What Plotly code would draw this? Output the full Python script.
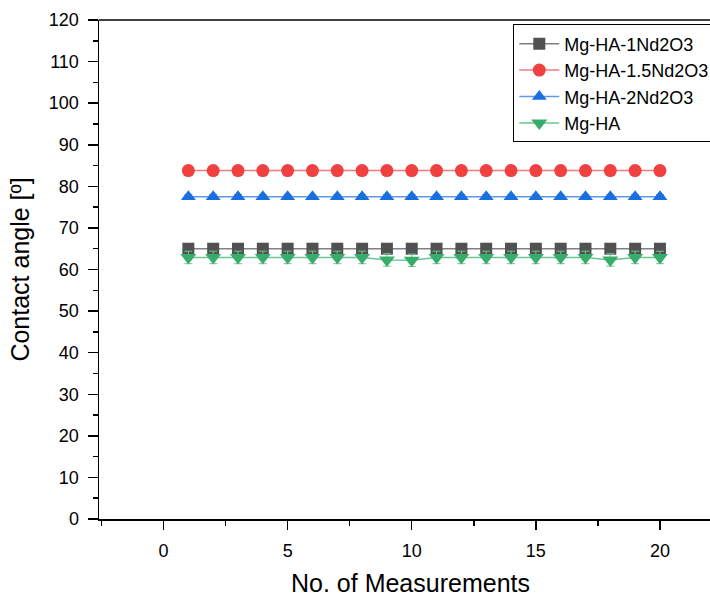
import plotly.graph_objects as go

measurements = list(range(1, 21))

names = ["Mg-HA-1Nd2O3", "Mg-HA-1.5Nd2O3", "Mg-HA-2Nd2O3", "Mg-HA"]

mg_ha_1nd = [65.0] * 20
mg_ha_15nd = [83.8] * 20
mg_ha_2nd = [77.5] * 20
mg_ha = [62.9, 62.9, 62.9, 62.9, 62.9, 62.9, 62.9, 62.9, 62.3, 62.2,
         62.9, 62.9, 62.9, 62.9, 62.9, 62.9, 62.9, 62.3, 62.9, 62.9]

err_1nd = [0.6] * 20
err_15nd = [0.8] * 20
err_2nd = [0.5] * 20
err_ha = [1.5] * 20

x_ticks = [0, 5, 10, 15, 20]
y_ticks = list(range(0, 121, 10))

colors = ["#515151", "#F14040", "#1A6FDF", "#37AD6B"]
line_colors = ["#808080", "#F47A7A", "#5E98E8", "#6CC592"]
symbols = ["square", "circle", "triangle-up", "triangle-down"]
sizes = [12, 13, 13, 14]
series = [mg_ha_1nd, mg_ha_15nd, mg_ha_2nd, mg_ha]
errors = [err_1nd, err_15nd, err_2nd, err_ha]

fig = go.Figure()
for name, ys, errs, c, lc, s, sz in zip(names, series, errors, colors, line_colors, symbols, sizes):
    fig.add_trace(go.Scatter(
        x=measurements, y=ys, name=name, mode="lines+markers",
        line=dict(color=lc, width=1.5),
        marker=dict(color=c, symbol=s, size=sz, line=dict(width=0)),
        error_y=dict(type="data", array=errs, visible=True, color=lc, thickness=1, width=4),
    ))

font_family = "Liberation Sans, Arial, sans-serif"

# The chart is cropped on the right in the reference: the figure is a bit wider
# than the 710px window, and the page hides the overflow.
fig.update_layout(
    width=722, height=598,
    margin=dict(l=99, r=0, t=20, b=79, autoexpand=False),
    paper_bgcolor="white", plot_bgcolor="white",
    font=dict(family=font_family, color="black"),
    showlegend=True,
    hovermode=False,
    legend=dict(
        x=0.665, y=0.991, xanchor="left", yanchor="top",
        bordercolor="black", borderwidth=1, bgcolor="white",
        font=dict(size=18, family=font_family), itemwidth=40,
        tracegroupgap=0,
    ),
    shapes=[dict(type="line", xref="paper", yref="paper", x0=0, x1=1, y0=1, y1=1,
                 line=dict(color="black", width=1.5))],
)

fig.update_xaxes(
    range=[-2.6, 22.5], tickvals=x_ticks, ticktext=[str(v) for v in x_ticks],
    showgrid=False, zeroline=False, automargin=False, showspikes=False,
    showline=True, linecolor="black", linewidth=1.5, mirror=False,
    ticks="outside", ticklen=9, tickwidth=1.5, tickcolor="black",
    minor=dict(dtick=2.5, ticks="outside", ticklen=5, tickwidth=1.5, tickcolor="black", showgrid=False),
    tickfont=dict(size=18), ticklabelstandoff=6,
    title=dict(text="No. of Measurements", font=dict(size=25), standoff=14),
)
fig.update_yaxes(
    range=[0, 120], tickvals=y_ticks, ticktext=[str(v) for v in y_ticks],
    showgrid=False, zeroline=False, automargin=False, showspikes=False,
    showline=True, linecolor="black", linewidth=1.5, mirror=False,
    ticks="outside", ticklen=10, tickwidth=1.5, tickcolor="black",
    minor=dict(dtick=5, ticks="outside", ticklen=5, tickwidth=1.5, tickcolor="black", showgrid=False),
    tickfont=dict(size=18), ticklabelstandoff=5,
    title=dict(text="Contact angle [º]", font=dict(size=25), standoff=12),
)

fig.write_html("out.html", config={"displayModeBar": False, "staticPlot": True},
               post_script="document.documentElement.style.overflow='hidden';document.body.style.margin='0';document.body.style.overflow='hidden';")
